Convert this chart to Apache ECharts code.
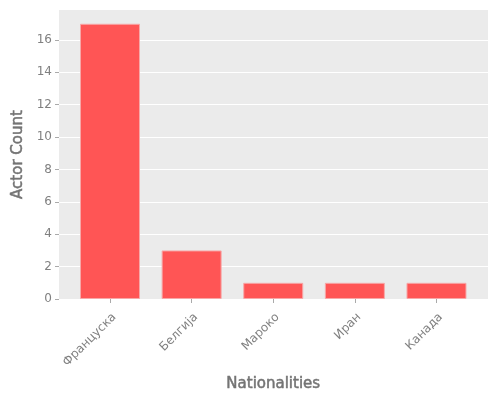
<!DOCTYPE html>
<html>
<head>
<meta charset="utf-8">
<script src="https://cdn.jsdelivr.net/npm/echarts@6/dist/echarts.min.js"></script>
<style>
  html, body { margin: 0; padding: 0; background: #fff; }
  #chart { width: 500px; height: 400px; }
</style>
</head>
<body>
<div id="chart"></div>
<script>
var categories = ['Француска', 'Белгија', 'Мароко', 'Иран', 'Канада'];
var actorCounts = [17, 3, 1, 1, 1];
var yTicks = [0, 2, 4, 6, 8, 10, 12, 14, 16];

var textColor = '#808080';
var nameColor = '#747474';
var fontFamily = 'DejaVu Sans';

// based on prepared DOM, initialize echarts instance
var myChart = echarts.init(document.getElementById('chart'));

// axis titles look a touch heavier than the tick labels
var nameStyle = {
    color: nameColor, fontSize: 15, fontFamily: fontFamily,
    textBorderColor: nameColor, textBorderWidth: 0.5
};

var option = {
    animation: false,
    textStyle: { fontFamily: fontFamily },
    grid: [
        // grey panel with the y grid lines
        { left: 59, top: 10, width: 429, height: 289, show: true, backgroundColor: '#EBEBEB', borderWidth: 0 },
        // bars, inset a bit like matplotlib margins
        { left: 69.2, top: 10, width: 408.1, height: 289 }
    ],
    xAxis: [
        { gridIndex: 0, type: 'value', min: 0, max: 1, show: false },
        {
            gridIndex: 1,
            type: 'category',
            data: categories,
            name: 'Nationalities',
            nameLocation: 'middle',
            nameGap: 78,
            nameTextStyle: nameStyle,
            axisLine: { show: false },
            axisTick: { show: true, alignWithLabel: true, length: 4, lineStyle: { color: '#aaa' } },
            axisLabel: {
                rotate: 45, margin: 12, verticalAlign: 'top',
                color: textColor, fontSize: 12, fontFamily: fontFamily, interval: 0
            }
        }
    ],
    yAxis: [
        {
            gridIndex: 0,
            type: 'value',
            min: 0,
            max: 17.85,
            name: 'Actor Count',
            nameLocation: 'middle',
            nameGap: 30,
            nameTextStyle: nameStyle,
            axisLine: { show: false },
            axisTick: { show: true, length: 4, customValues: yTicks, lineStyle: { color: '#aaa' } },
            axisLabel: { customValues: yTicks, margin: 7, color: textColor, fontSize: 12, fontFamily: fontFamily },
            splitLine: { show: true, lineStyle: { color: '#ffffff', width: 1 } }
        },
        { gridIndex: 1, type: 'value', min: 0, max: 17.85, show: false }
    ],
    series: [
        {
            type: 'bar',
            xAxisIndex: 1,
            yAxisIndex: 1,
            barWidth: '73.5%',
            data: actorCounts,
            itemStyle: { color: '#FF5555', borderColor: '#F7A8A8', borderWidth: 1 }
        }
    ]
};

myChart.setOption(option);
</script>
</body>
</html>
